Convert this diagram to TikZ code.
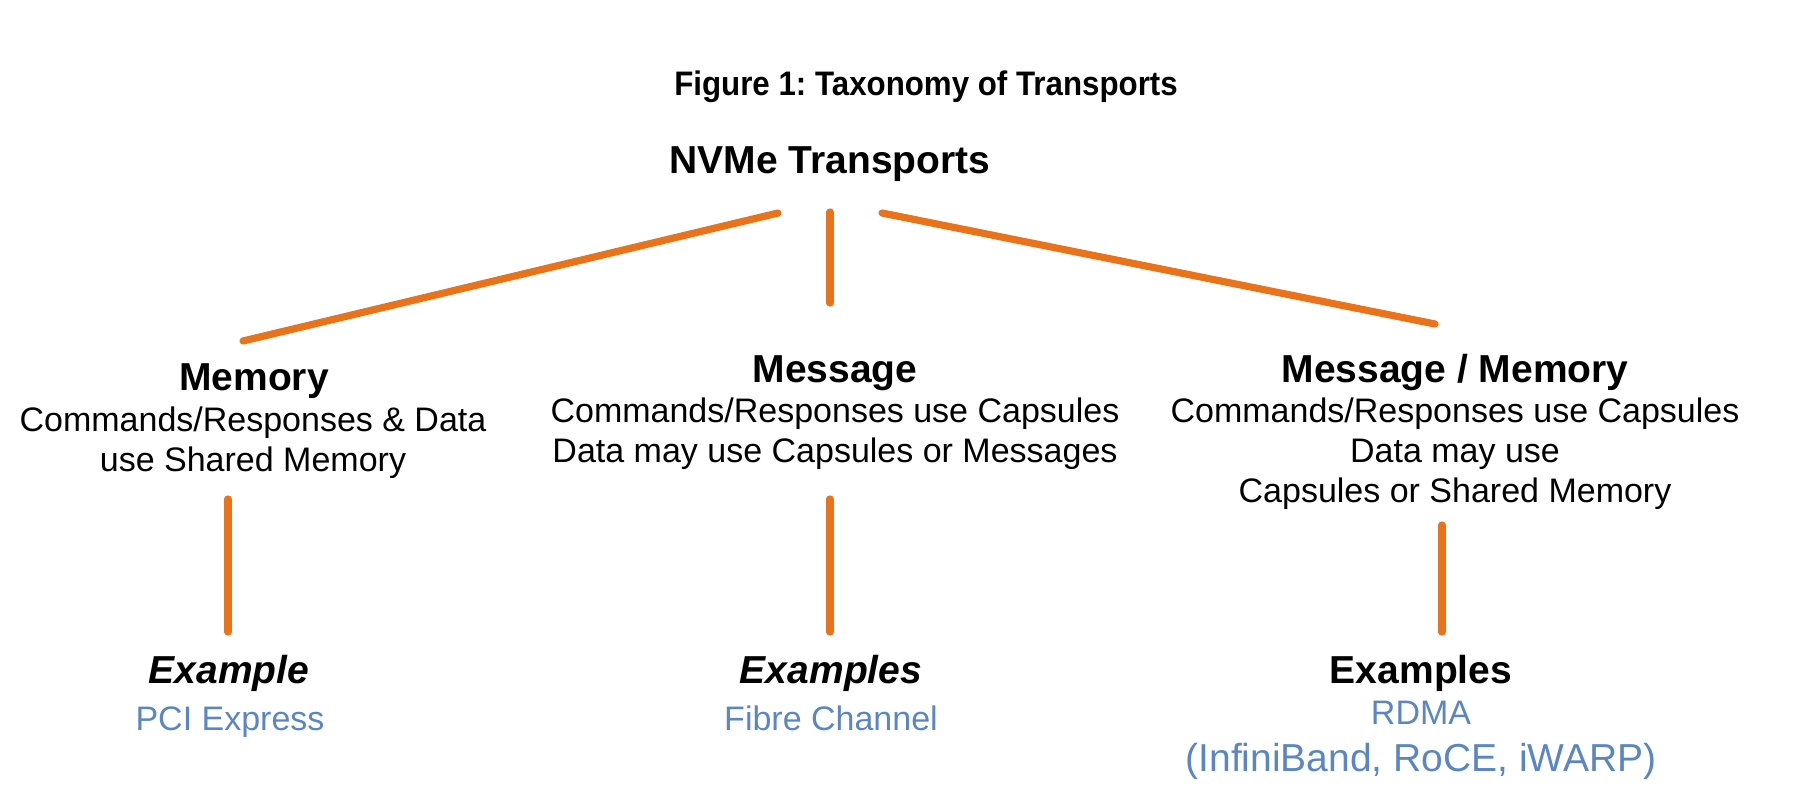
\documentclass[tikz,border=0pt]{standalone}
\usepackage{fontspec}
\setmainfont{Liberation Sans}
\frenchspacing
\definecolor{linkorange}{HTML}{E8731A}
\definecolor{exblue}{HTML}{5B86C1}
\newcommand{\desclines}[1]{\begin{tabular}[t]{@{}c@{}}#1\end{tabular}}

\begin{document}
\begin{tikzpicture}[x=0.5pt,y=-0.5pt,
		link/.style={line width=3.6pt, linkorange, line cap=round},
		head/.style={font=\fontsize{19.5}{23}\selectfont\bfseries, anchor=base, inner sep=0pt},
		desc/.style={font=\fontsize{17}{20}\selectfont, anchor=base, inner sep=0pt},
		exhead/.style={head, font=\fontsize{19.5}{23}\selectfont\bfseries\itshape},
		exname/.style={font=\fontsize{17}{20}\selectfont, text=exblue, anchor=base, inner sep=0pt}]
		\useasboundingbox (0,0) rectangle (1814,802);
		
		\node[font=\fontsize{17}{20}\selectfont\bfseries, anchor=base, inner sep=0pt] (title) at (926,96)
		{\scalebox{0.92}[1]{Figure 1: Taxonomy of Transports}};
		\node[head] (root) at (830,174) {NVMe Transports};
		
		\node[head] (mem) at (254,390) {Memory};
		\node[desc] (memdesc) at (253,431) {\desclines{Commands/Responses \& Data\\use Shared Memory}};
		\node[head] (msg) at (835,382) {Message};
		\node[desc] (msgdesc) at (835,422) {\desclines{Commands/Responses use Capsules\\Data may use Capsules or Messages}};
		\node[head] (mm) at (1455,382) {Message / Memory};
		\node[desc] (mmdesc) at (1455,422) {\desclines{Commands/Responses use Capsules\\Data may use\\Capsules or Shared Memory}};
		
		\node[exhead] (memex) at (229,683) {Example};
		\node[exname] (pci) at (230,730) {PCI Express};
		\node[exhead] (msgex) at (831,683) {Examples};
		\node[exname] (fc) at (831,730) {Fibre Channel};
		\node[head] (mmex) at (1421,683) {Examples};
		\node[exname] (rdma) at (1421,724) {RDMA};
		\node[exname, font=\fontsize{19.5}{23}\selectfont] (ib) at (1421,771) {(InfiniBand, RoCE, iWARP)};
		
		% connector ends
		\coordinate (root-l) at (778,213);
		\coordinate (root-m) at (830,212);
		\coordinate (root-r) at (882,213);
		\coordinate (mem-in) at (243,341);
		\coordinate (msg-in) at (830,303);
		\coordinate (mm-in) at (1435,324);
		\coordinate (mem-out) at (228,499);
		\coordinate (msg-out) at (830,499);
		\coordinate (mm-out) at (1442,525);
		\coordinate (memex-in) at (228,632);
		\coordinate (msgex-in) at (830,632);
		\coordinate (mmex-in) at (1442,632);
		
		\draw[link] (root-l) -- (mem-in);
		\draw[link] (root-m) -- (msg-in);
		\draw[link] (root-r) -- (mm-in);
		\draw[link] (mem-out) -- (memex-in);
		\draw[link] (msg-out) -- (msgex-in);
		\draw[link] (mm-out) -- (mmex-in);
	\end{tikzpicture}
\end{document}
